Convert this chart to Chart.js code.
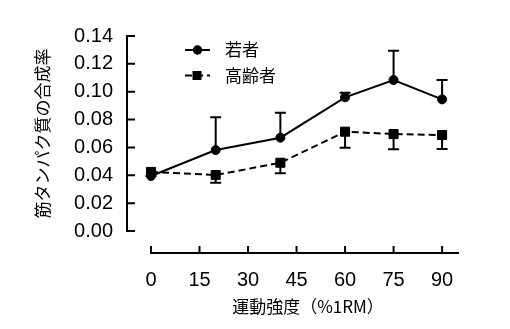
<!DOCTYPE html>
<html>
<head>
<meta charset="utf-8">
<script src="https://cdn.jsdelivr.net/npm/chart.js@4.4.0/dist/chart.umd.min.js"></script>
<style>
html, body { margin: 0; padding: 0; background: #fff; }
#wrap { width: 510px; height: 329px; }
</style>
</head>
<body>
<div id="wrap"><canvas id="chart1"></canvas></div>
<script>
var intensity = [0, 20, 40, 60, 75, 90];
var young = [0.0395, 0.0581, 0.0670, 0.0960, 0.1084, 0.0945];
var youngErr = [0, 0.0235, 0.0179, 0.0033, 0.0210, 0.0139];
var elderly = [0.0424, 0.0402, 0.0490, 0.0713, 0.0696, 0.0689];
var elderlyErr = [0.003, 0.0055, 0.0076, 0.0115, 0.0109, 0.0100];
var xTicks = [0, 15, 30, 45, 60, 75, 90];
var yTicks = [0, 0.02, 0.04, 0.06, 0.08, 0.10, 0.12, 0.14];
var labels = ['若者', '高齢者'];

var jp = '"Noto Sans CJK JP", sans-serif';
var num = '"Liberation Sans", Arial, sans-serif';

function pts(ys) {
    return intensity.map(function (x, i) { return { x: x, y: ys[i] }; });
}

// upper bars for young, lower bars for elderly
var errorBars = {
    id: 'errorBars',
    beforeDatasetsDraw: function (chart) {
        var ctx = chart.ctx, xs = chart.scales.x, ys = chart.scales.y;
        var sets = [[young, youngErr, 1], [elderly, elderlyErr, -1]];
        ctx.save();
        ctx.strokeStyle = '#000';
        ctx.lineWidth = 2;
        sets.forEach(function (s) {
            intensity.forEach(function (x, i) {
                if (!s[1][i]) return;
                var px = xs.getPixelForValue(x);
                var p0 = ys.getPixelForValue(s[0][i]);
                var p1 = ys.getPixelForValue(s[0][i] + s[2] * s[1][i]);
                ctx.beginPath();
                ctx.moveTo(px, p0); ctx.lineTo(px, p1);
                ctx.moveTo(px - 5.5, p1); ctx.lineTo(px + 5.5, p1);
                ctx.stroke();
            });
        });
        ctx.restore();
    }
};

var axesLines = {
    id: 'axesLines',
    afterDraw: function (chart) {
        var ctx = chart.ctx, xs = chart.scales.x, ys = chart.scales.y;
        var left = chart.chartArea.left;
        var yTop = ys.getPixelForValue(0.14), yBot = ys.getPixelForValue(0);
        var axY = 253;
        ctx.save();
        ctx.strokeStyle = '#000';
        ctx.lineWidth = 2;
        ctx.beginPath();
        ctx.moveTo(left, yTop); ctx.lineTo(left, yBot);
        yTicks.forEach(function (v) {
            var py = ys.getPixelForValue(v);
            ctx.moveTo(left - 1, py); ctx.lineTo(left + 8, py);
        });
        ctx.moveTo(xs.getPixelForValue(0) - 1, axY); ctx.lineTo(459, axY);
        xTicks.forEach(function (v) {
            var px = xs.getPixelForValue(v);
            ctx.moveTo(px, axY); ctx.lineTo(px, axY - 7);
        });
        ctx.stroke();

        // legend
        chart.data.datasets.forEach(function (ds, i) {
            var ly = 50 + i * 25.5;
            ctx.setLineDash(ds.borderDash || []);
            ctx.beginPath();
            ctx.moveTo(185, ly); ctx.lineTo(210, ly);
            ctx.stroke();
            ctx.setLineDash([]);
            ctx.fillStyle = '#000';
            ctx.beginPath();
            if (ds.pointStyle === 'rect') ctx.rect(192.5, ly - 4.5, 9, 9);
            else ctx.arc(197.5, ly, 4.7, 0, Math.PI * 2);
            ctx.fill();
            ctx.font = '17px ' + jp;
            ctx.textBaseline = 'middle';
            ctx.fillText(ds.label, 225, ly);
        });
        ctx.restore();
    }
};

var myChart = document.getElementById('chart1').getContext('2d');
var proteinChart = new Chart(myChart, {
    type: 'line',
    data: {
        datasets: [{
            label: labels[0],
            data: pts(young),
            borderColor: '#000',
            backgroundColor: '#000',
            borderWidth: 2,
            pointStyle: 'circle',
            pointRadius: 4.5,
            pointBorderWidth: 1,
            clip: false
        }, {
            label: labels[1],
            data: pts(elderly),
            borderColor: '#000',
            backgroundColor: '#000',
            borderWidth: 2,
            borderDash: [7, 4],
            pointStyle: 'rect',
            pointRadius: 6.4,
            pointBorderWidth: 1,
            clip: false
        }]
    },
    options: {
        responsive: true,
        maintainAspectRatio: false,
        animation: false,
        devicePixelRatio: 1,
        layout: { padding: { left: 0, top: 36, right: 21, bottom: 0 } },
        plugins: { legend: { display: false }, tooltip: { enabled: false } },
        scales: {
            x: {
                type: 'linear',
                min: -7.42,
                max: 104.5,
                afterBuildTicks: function (s) { s.ticks = xTicks.map(function (v) { return { value: v }; }); },
                afterFit: function (s) { s.height = 98; },
                grid: { display: false, drawTicks: false },
                border: { display: false },
                ticks: {
                    autoSkip: false, maxRotation: 0, padding: 37,
                    color: '#000', font: { family: num, size: 20 },
                    callback: function (v) { return v; }
                },
                title: {
                    display: true, text: '運動強度（%1RM）', color: '#000',
                    font: { family: jp, size: 17 },
                    padding: { top: 0, bottom: 12 }
                }
            },
            y: {
                min: 0,
                max: 0.14,
                afterBuildTicks: function (s) { s.ticks = yTicks.map(function (v) { return { value: v }; }); },
                afterFit: function (s) { s.width = 127; },
                grid: { display: false, drawTicks: false },
                border: { display: false },
                ticks: {
                    padding: 14,
                    color: '#000', font: { family: num, size: 20 },
                    callback: function (v) { return v.toFixed(2); }
                },
                title: {
                    display: true, text: '筋タンパク質の合成率', color: '#000',
                    font: { family: jp, size: 17 },
                    padding: { top: 32, bottom: 0 }
                }
            }
        }
    },
    plugins: [errorBars, axesLines]
});
</script>
</body>
</html>
